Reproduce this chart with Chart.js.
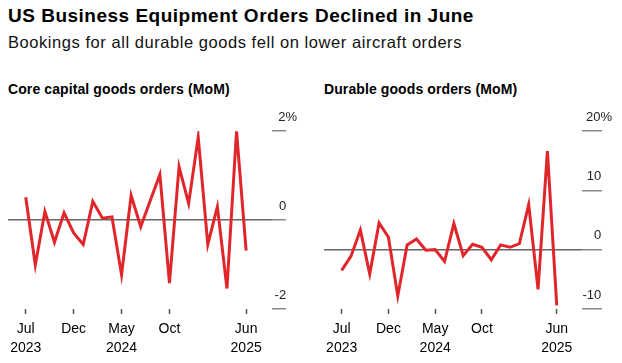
<!DOCTYPE html>
<html>
<head>
<meta charset="utf-8">
<script src="https://cdn.jsdelivr.net/npm/chart.js@4.4.1/dist/chart.umd.min.js"></script>
<style>
body{margin:0;width:622px;height:363px;background:#fff;position:relative;overflow:hidden;font-family:"Liberation Sans",Arial,sans-serif;color:#000}
#title{position:absolute;left:8px;top:5px;font-size:19px;letter-spacing:0.5px;font-weight:bold;white-space:nowrap}
#sub{position:absolute;left:8px;top:33px;font-size:16.5px;letter-spacing:0.55px;white-space:nowrap;color:#111}
.ptitle{position:absolute;top:81px;font-size:14px;letter-spacing:0.1px;font-weight:bold;white-space:nowrap}
canvas{position:absolute;top:100px}
</style>
</head>
<body>
<div id="title">US Business Equipment Orders Declined in June</div>
<div id="sub">Bookings for all durable goods fell on lower aircraft orders</div>
<div class="ptitle" style="left:8px">Core capital goods orders (MoM)</div>
<div class="ptitle" style="left:324px">Durable goods orders (MoM)</div>
<canvas id="left" width="310" height="263" style="left:0"></canvas>
<canvas id="right" width="312" height="263" style="left:310px"></canvas>
<script>
// monthly, Jul 2023 .. Jun 2025
var months = ['Jul 2023','Aug 2023','Sep 2023','Oct 2023','Nov 2023','Dec 2023',
  'Jan 2024','Feb 2024','Mar 2024','Apr 2024','May 2024','Jun 2024',
  'Jul 2024','Aug 2024','Sep 2024','Oct 2024','Nov 2024','Dec 2024',
  'Jan 2025','Feb 2025','Mar 2025','Apr 2025','May 2025','Jun 2025'];
var coreCapital = [0.51,-1.01,0.19,-0.50,0.16,-0.29,-0.55,0.42,0.04,0.07,-1.23,0.55,
  -0.15,0.44,1.02,-1.42,1.20,0.37,1.86,-0.55,0.30,-1.54,1.99,-0.69];
var durableGoods = [-3.5,-1.1,3.3,-4.1,4.5,2.1,-7.8,0.8,1.8,-0.1,0.0,-2.0,
  4.4,-1.0,0.9,0.4,-1.7,0.8,0.4,1.0,7.6,-6.7,16.6,-9.4];
var tickMonths = [0,5,10,15,23];
var tickLabels = [['Jul','2023'],['Dec'],['May','2024'],['Oct'],['Jun','2025']];
var coreTicks = [-2,0,2];
var durableTicks = [-10,0,10,20];

function makeChart(id, values, yTicks, opt) {
  var yMin = yTicks[0], yMax = yTicks[yTicks.length-1];
  return new Chart(document.getElementById(id), {
    type: 'line',
    data: {
      datasets: [{
        data: values.map(function (v, i) { return {x: i, y: v}; }),
        borderColor: '#e0262b',
        borderWidth: 3,
        pointRadius: 0,
        tension: 0,
        fill: false
      }]
    },
    options: {
      responsive: false,
      animation: false,
      events: [],
      layout: {padding: {left: opt.padLeft, top: 31, right: 0, bottom: 0}},
      plugins: {legend: {display: false}, tooltip: {enabled: false}},
      scales: {
        x: {
          type: 'linear',
          min: opt.xMin,
          max: 25.7,
          afterBuildTicks: function (s) { s.ticks = tickMonths.map(function (v) { return {value: v}; }); },
          afterFit: function (s) { s.height = 54; },
          border: {display: false},
          grid: {drawOnChartArea: false, tickLength: 5, tickColor: '#555', tickWidth: 1.5},
          ticks: {
            autoSkip: false, maxRotation: 0, padding: 6,
            color: '#000',
            font: {family: '"Liberation Sans", Arial, sans-serif', size: 14, lineHeight: 1.35},
            callback: function (v) { return tickLabels[tickMonths.indexOf(v)]; }
          }
        },
        y: {
          position: 'right',
          min: yMin,
          max: yMax,
          afterBuildTicks: function (s) { s.ticks = yTicks.map(function (v) { return {value: v}; }); },
          afterFit: function (s) { s.width = opt.axisWidth; s.paddingTop = 0; s.paddingBottom = 0; },
          border: {display: false},
          grid: {
            color: function (c) { return c.tick && c.tick.value === 0 ? '#666' : 'rgba(0,0,0,0)'; },
            lineWidth: 1.5,
            tickLength: opt.tickLen,
            tickColor: '#888',
            tickWidth: 1.5
          },
          ticks: {
            mirror: true,
            crossAlign: 'near',
            padding: opt.labelPad,
            labelOffset: -14,
            color: '#222',
            font: {family: '"Liberation Sans", Arial, sans-serif', size: 13},
            callback: function (v) { return v === yMax ? v + '%' : v + '   '; }
          }
        }
      }
    }
  });
}

makeChart('left', coreCapital, coreTicks, {padLeft: 8, xMin: -1.85, axisWidth: 38, tickLen: 14, labelPad: 25});
makeChart('right', durableGoods, durableTicks, {padLeft: 14, xMin: -1.89, axisWidth: 40, tickLen: 20, labelPad: 30});
</script>
</body>
</html>
